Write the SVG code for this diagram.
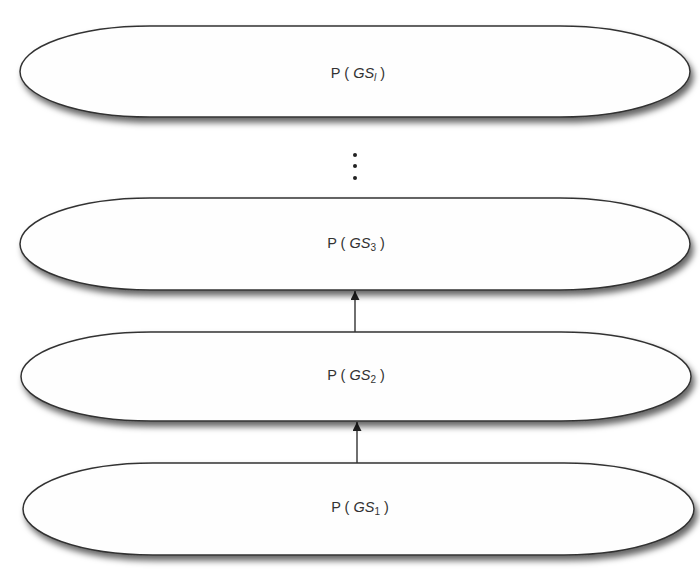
<svg xmlns="http://www.w3.org/2000/svg" width="700" height="575" viewBox="0 0 700 575">
<style>
.n{fill:#fefefe;stroke:#333;stroke-width:1.5;filter:url(#sh)}
.t{font-family:"Liberation Sans",Arial,sans-serif;font-size:14.5px;fill:#333;text-anchor:middle}
.e{stroke:#222;stroke-width:1.3;fill:none;marker-end:url(#ar)}
</style>
<defs>
<filter id="sh" x="-5%" y="-20%" width="112%" height="150%">
<feDropShadow dx="3" dy="5" stdDeviation="3" flood-color="#000" flood-opacity="0.6"/>
</filter>
<marker id="ar" viewBox="0 0 10 10" refX="10" refY="5" markerWidth="11" markerHeight="9" markerUnits="userSpaceOnUse" orient="auto">
<path d="M0,0L10,5L0,10z" fill="#222"/>
</marker>
</defs>
<rect width="700" height="575" fill="#fff"/>
<g id="connectors">
<line class="e" x1="355" y1="332" x2="355" y2="291"/>
<line class="e" x1="357" y1="463" x2="357" y2="422"/>
</g>
<g id="nodeL">
<rect class="n" x="20" y="26" width="670" height="91" rx="130" ry="45.5"/>
<text class="t" x="358" y="78">P ( <tspan font-style="italic">GS</tspan><tspan font-style="italic" font-size="10" dy="3">l</tspan><tspan dy="-3"> )</tspan></text>
</g>
<g id="dots" fill="#222">
<circle cx="355" cy="155" r="2"/>
<circle cx="355" cy="166" r="2"/>
<circle cx="355" cy="178" r="2"/>
</g>
<g id="node3">
<rect class="n" x="20" y="198" width="670" height="92" rx="130" ry="46"/>
<text class="t" x="356" y="248">P ( <tspan font-style="italic">GS</tspan><tspan font-size="10" dy="3">3</tspan><tspan dy="-3"> )</tspan></text>
</g>
<g id="node2">
<rect class="n" x="21" y="332" width="670" height="89" rx="130" ry="44.5"/>
<text class="t" x="356" y="380">P ( <tspan font-style="italic">GS</tspan><tspan font-size="10" dy="3">2</tspan><tspan dy="-3"> )</tspan></text>
</g>
<g id="node1">
<rect class="n" x="23" y="463" width="671" height="92" rx="130" ry="46"/>
<text class="t" x="360" y="512">P ( <tspan font-style="italic">GS</tspan><tspan font-size="10" dy="3">1</tspan><tspan dy="-3"> )</tspan></text>
</g>
</svg>
